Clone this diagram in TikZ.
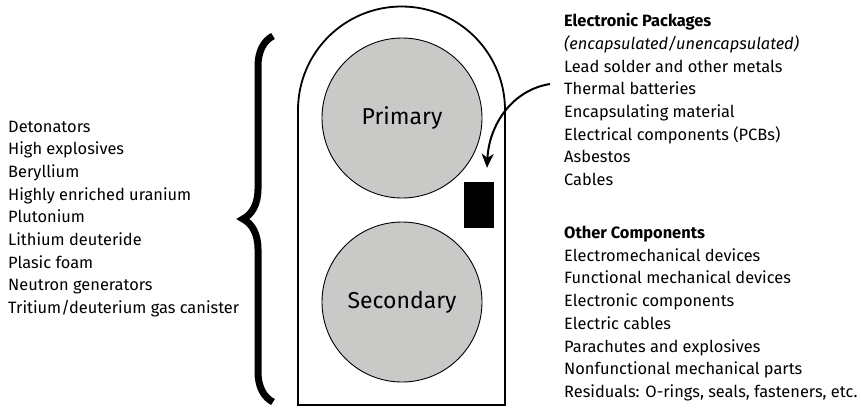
\documentclass[tikz,border=0pt]{standalone}
\usepackage{fontspec}
\setmainfont{Fira Sans}
\usepackage{tikz}
\usetikzlibrary{positioning,arrows.meta,decorations.pathreplacing}
\definecolor{warheadGray}{RGB}{201,202,200}
\tikzstyle{pixelGrid} = [x = 1pt, y = -1pt]
\tikzstyle{caseLine} = [color=black, line width=1.8pt]
\tikzstyle{stageCircle} = [circle, draw=black, line width=0.9pt, fill=warheadGray, minimum size=160pt, inner sep=0pt, font=\fontsize{23}{28}\selectfont]
\tikzstyle{listText} = [anchor=base west, inner sep=0pt, font=\fontsize{16.4}{22}\selectfont]
\tikzstyle{listHead} = [listText, font=\fontsize{16.4}{22}\selectfont\bfseries]
\tikzstyle{packageBox} = [fill=black, minimum width=30pt, minimum height=46pt, inner sep=0pt]
\tikzstyle{bigBrace} = [line width=7pt, decorate, decoration={brace, amplitude=30pt}]
\tikzstyle{pointerArrow} = [line width=2pt, -{Stealth[length=14pt, width=12pt, inset=4pt]}]
\newcommand{\lineGap}{22.7}

\begin{document}
\begin{tikzpicture}[pixelGrid]
  \useasboundingbox (0,0) rectangle (861,408);
  % casing
  \draw [caseLine] (298,405) -- (298,110) arc (180:360:103.5) -- (505,405) -- cycle;
  \node [stageCircle] (primary) at (402,118) {Primary};
  \node [stageCircle] (secondary) at (402,302) {Secondary};
  \node [packageBox] (battery) at (479,205) {};
  % left list
  \foreach \item [count=\i] in {Detonators, High explosives, Beryllium,
      Highly enriched uranium, Plutonium, Lithium deuteride, Plasic foam,
      Neutron generators, Tritium/deuterium gas canister} {
    \node [listText] (material\i) at (8, {132 + \lineGap*(\i-1)}) {\item};
  }
  \coordinate (braceBottom) at (273,402);
  \coordinate (braceTop) at (273,36);
  \draw [bigBrace] (braceBottom) -- (braceTop);
  % electronic packages
  \node [listHead] (elecHead) at (564,26.7) {Electronic Packages};
  \node [listText] (elecNote) at (564,{26.7+\lineGap}) {\itshape (encapsulated/unencapsulated)};
  \foreach \item [count=\i] in {Lead solder and other metals, Thermal batteries,
      Encapsulating material, Electrical components (PCBs), Asbestos, Cables} {
    \node [listText] (elec\i) at (564, {26.7 + \lineGap*(\i+1)}) {\item};
  }
  \coordinate (arrowStart) at (550,84);
  \draw [pointerArrow] (arrowStart) .. controls (512,90) and (489,125) .. ([shift={(8pt,14pt)}]battery.north);
  % other components
  \node [listHead] (otherHead) at (564,238.5) {Other Components};
  \foreach \item [count=\i] in {Electromechanical devices, Functional mechanical devices,
      Electronic components, Electric cables, Parachutes and explosives,
      Nonfunctional mechanical parts, {Residuals: O-rings, seals, fasteners, etc.}} {
    \node [listText] (other\i) at (564, {238.5 + \lineGap*\i}) {\item};
  }
\end{tikzpicture}
\end{document}
